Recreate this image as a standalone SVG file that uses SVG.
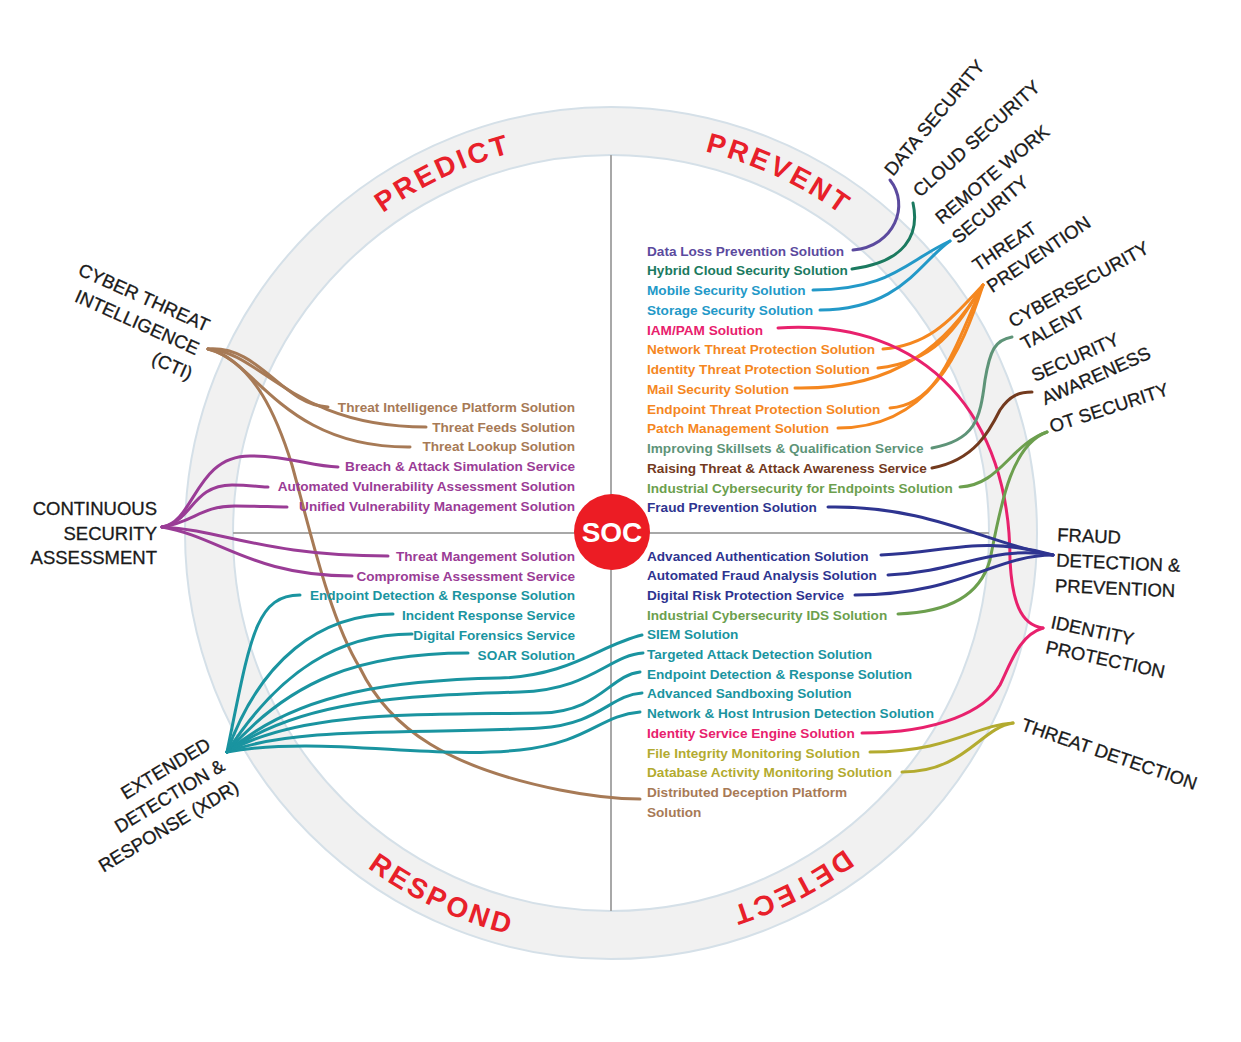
<svg xmlns="http://www.w3.org/2000/svg" width="1241" height="1042" viewBox="0 0 1241 1042">
<style>
.lbl{font-family:"Liberation Sans",Arial,sans-serif;font-size:18.5px;fill:#1a1a1a;stroke:#1a1a1a;stroke-width:0.3px}
.itm{font-family:"Liberation Sans",Arial,sans-serif;font-size:13.6px;font-weight:bold}
.end{text-anchor:end}
.q{font-family:"Liberation Sans",Arial,sans-serif;font-size:28px;font-weight:bold;fill:#e8202a;letter-spacing:3px}
.cn path{fill:none;stroke-width:3;stroke-linecap:round}
.purple{fill:#5b4a9e}.s-purple{stroke:#5b4a9e}
.green{fill:#1b7a60}.s-green{stroke:#1b7a60}
.blue{fill:#2399c8}.s-blue{stroke:#2399c8}
.pink{fill:#e8216d}.s-pink{stroke:#e8216d}
.orange{fill:#f5871f}.s-orange{stroke:#f5871f}
.sage{fill:#5e9478}.s-sage{stroke:#5e9478}
.dbrown{fill:#733a1e}.s-dbrown{stroke:#733a1e}
.olive{fill:#6c9f4e}.s-olive{stroke:#6c9f4e}
.navy{fill:#2e3490}.s-navy{stroke:#2e3490}
.teal{fill:#1a94a0}.s-teal{stroke:#1a94a0}
.yellow{fill:#b3ab30}.s-yellow{stroke:#b3ab30}
.tan{fill:#a77a56}.s-tan{stroke:#a77a56}
.mag{fill:#9a3c96}.s-mag{stroke:#9a3c96}
</style>
<defs>
<path id="arcPredict" d="M254.8,366.9 A393,393 0 0 1 712.7,153.4"/>
<path id="arcPrevent" d="M509.3,153.4 A393,393 0 0 1 967.2,366.9"/>
<path id="arcDetect" d="M972.8,686.5 A393,393 0 0 1 522.6,915.9"/>
<path id="arcRespond" d="M235.8,708 A414,414 0 0 0 718.1,932.9"/>
</defs>
<rect width="1241" height="1042" fill="#ffffff"/>
<g id="ring">
<circle cx="611" cy="533" r="402" fill="none" stroke="#f1f1f1" stroke-width="48"/>
<circle cx="611" cy="533" r="426" fill="none" stroke="#d5e0e8" stroke-width="2"/>
<circle cx="611" cy="533" r="378" fill="none" stroke="#d5e0e8" stroke-width="2"/>
<line x1="611" y1="155" x2="611" y2="911" stroke="#a8a8a8" stroke-width="2"/>
<line x1="233" y1="533" x2="989" y2="533" stroke="#a8a8a8" stroke-width="2"/>
</g>
<g id="quadrants">
<text class="q"><textPath href="#arcPredict" startOffset="50%" text-anchor="middle">PREDICT</textPath></text>
<text class="q"><textPath href="#arcPrevent" startOffset="50%" text-anchor="middle">PREVENT</textPath></text>
<text class="q"><textPath href="#arcDetect" startOffset="50%" text-anchor="middle">DETECT</textPath></text>
<text class="q"><textPath href="#arcRespond" startOffset="50%" text-anchor="middle">RESPOND</textPath></text>
</g>
<g id="connectors" class="cn">
<path class="s-tan" d="M208,349 C260,345 282,405 328,407"/>
<path class="s-tan" d="M208,349 C262,352 292,427 426,427"/>
<path class="s-tan" d="M208,349 C255,358 282,448 410,447"/>
<path class="s-tan" d="M208,349 C255,362 278,420 292,465 C310,530 330,620 360,668 C390,730 450,768 560,790 C590,796 620,799 640,799"/>
<path class="s-mag" d="M162,527 C195,522 195,456 250,456 C290,456 310,466 338,467"/>
<path class="s-mag" d="M162,527 C192,522 192,485 232,485 C250,485 262,487 268,487"/>
<path class="s-mag" d="M162,527 C195,522 200,506 235,506 C255,506 275,507 287,507"/>
<path class="s-mag" d="M162,527 C225,530 262,556 388,556"/>
<path class="s-mag" d="M162,527 C220,537 252,576 352,576"/>
<path class="s-teal" d="M227,752 C250,640 255,595 300,595"/>
<path class="s-teal" d="M227,752 C260,660 320,614 393,614"/>
<path class="s-teal" d="M227,752 C280,670 340,634 412,634"/>
<path class="s-teal" d="M227,752 C290,680 360,653 468,653"/>
<path class="s-teal" d="M227,752 C300,690 400,680 500,678 C570,676 600,645 642,635"/>
<path class="s-teal" d="M227,752 C300,700 400,696 520,692 C590,690 610,655 643,653"/>
<path class="s-teal" d="M227,752 C300,710 420,715 540,713 C600,712 610,675 640,672"/>
<path class="s-teal" d="M227,752 C300,725 420,735 540,728 C600,724 610,695 642,693"/>
<path class="s-teal" d="M227,752 C320,735 430,760 520,750 C590,742 600,715 640,712"/>
<path class="s-purple" d="M853,250 C895,246 910,205 890,180"/>
<path class="s-green" d="M852,269 C905,262 920,235 913,203"/>
<path class="s-blue" d="M813,290 C890,290 905,262 950,241"/>
<path class="s-blue" d="M820,310 C900,310 920,262 950,241"/>
<path class="s-orange" d="M883,349 C930,345 950,320 983,285"/>
<path class="s-orange" d="M878,368 C935,362 955,330 983,285"/>
<path class="s-orange" d="M795,388 C900,390 950,340 983,285"/>
<path class="s-orange" d="M890,408 C940,405 955,345 983,285"/>
<path class="s-orange" d="M838,428 C930,428 962,350 983,285"/>
<path class="s-pink" d="M778,328 C930,318 1010,420 1010,560 C1012,600 1020,625 1043,628"/>
<path class="s-pink" d="M862,733 C940,733 985,710 1000,685 C1012,660 1020,635 1043,628"/>
<path class="s-sage" d="M932,448 C975,440 980,420 985,380 C990,350 995,340 1012,337"/>
<path class="s-dbrown" d="M932,468 C975,460 990,430 1000,410 C1010,395 1020,392 1032,392"/>
<path class="s-olive" d="M960,487 C1000,485 1010,445 1047,432"/>
<path class="s-olive" d="M898,614 C950,612 980,595 990,560 C1000,510 1010,445 1047,432"/>
<path class="s-navy" d="M828,507 C930,505 990,545 1053,555"/>
<path class="s-navy" d="M881,555 C950,552 980,535 1053,555"/>
<path class="s-navy" d="M888,575 C960,572 990,545 1053,555"/>
<path class="s-navy" d="M855,595 C960,595 995,555 1053,555"/>
<path class="s-yellow" d="M870,752 C950,752 975,725 1013,723"/>
<path class="s-yellow" d="M902,772 C965,772 980,728 1013,723"/>
</g>
<g id="soc">
<circle cx="612" cy="532" r="38" fill="#ec1c24"/>
<text x="612" y="542" text-anchor="middle" font-family="Liberation Sans, Arial, sans-serif" font-size="28" font-weight="bold" fill="#ffffff">SOC</text>
</g>
<g id="node-cti"><text class="lbl end" transform="translate(206,332) rotate(24)"><tspan x="0" y="0">CYBER THREAT</tspan><tspan x="0" y="25.5">INTELLIGENCE</tspan><tspan x="4" y="51">(CTI)</tspan></text></g>
<g id="node-csa"><text class="lbl end"><tspan x="157" y="515">CONTINUOUS</tspan><tspan x="157" y="540">SECURITY</tspan><tspan x="157" y="564">ASSESSMENT</tspan></text></g>
<g id="node-xdr"><text class="lbl end" transform="translate(212,748) rotate(-31)"><tspan x="0" y="0">EXTENDED</tspan><tspan x="1" y="25.5">DETECTION &amp;</tspan><tspan x="2" y="51">RESPONSE (XDR)</tspan></text></g>
<g id="node-data"><text class="lbl" transform="translate(893,177) rotate(-50)">DATA SECURITY</text></g>
<g id="node-cloud"><text class="lbl" transform="translate(920,198) rotate(-42)">CLOUD SECURITY</text></g>
<g id="node-remote"><text class="lbl" transform="translate(942,225) rotate(-40)"><tspan x="0" y="0">REMOTE WORK</tspan><tspan x="0" y="25.5">SECURITY</tspan></text></g>
<g id="node-threatprev"><text class="lbl" transform="translate(978,272) rotate(-34)"><tspan x="0" y="0">THREAT</tspan><tspan x="0" y="25.5">PREVENTION</tspan></text></g>
<g id="node-talent"><text class="lbl" transform="translate(1013,328) rotate(-29)"><tspan x="0" y="0">CYBERSECURITY</tspan><tspan x="0" y="25.5">TALENT</tspan></text></g>
<g id="node-awareness"><text class="lbl" transform="translate(1035,382) rotate(-24)"><tspan x="0" y="0">SECURITY</tspan><tspan x="0" y="25.5">AWARENESS</tspan></text></g>
<g id="node-ot"><text class="lbl" transform="translate(1052,433) rotate(-18)">OT SECURITY</text></g>
<g id="node-fraud"><text class="lbl" transform="translate(1057,541) rotate(2.5)"><tspan x="0" y="0">FRAUD</tspan><tspan x="0" y="25.5">DETECTION &amp;</tspan><tspan x="0" y="51">PREVENTION</tspan></text></g>
<g id="node-identity"><text class="lbl" transform="translate(1050,628) rotate(12)"><tspan x="0" y="0">IDENTITY</tspan><tspan x="0" y="25.5">PROTECTION</tspan></text></g>
<g id="node-threatdet"><text class="lbl" transform="translate(1020,730) rotate(19)">THREAT DETECTION</text></g>
<g id="items-left" class="itm end">
<text id="i-tip" class="itm end tan" x="575" y="412">Threat Intelligence Platform Solution</text>
<text id="i-feeds" class="itm end tan" x="575" y="431.7">Threat Feeds Solution</text>
<text id="i-lookup" class="itm end tan" x="575" y="451.4">Threat Lookup Solution</text>
<text id="i-breach" class="itm end mag" x="575" y="471.1">Breach &amp; Attack Simulation Service</text>
<text id="i-ava" class="itm end mag" x="575" y="490.8">Automated Vulnerability Assessment Solution</text>
<text id="i-uvm" class="itm end mag" x="575" y="510.5">Unified Vulnerability Management Solution</text>
<text id="i-tm" class="itm end mag" x="575" y="561">Threat Mangement Solution</text>
<text id="i-ca" class="itm end mag" x="575" y="580.7">Compromise Assessment Service</text>
<text id="i-edr1" class="itm end teal" x="575" y="600.4">Endpoint Detection &amp; Response Solution</text>
<text id="i-ir" class="itm end teal" x="575" y="620.1">Incident Response Service</text>
<text id="i-df" class="itm end teal" x="575" y="639.8">Digital Forensics Service</text>
<text id="i-soar" class="itm end teal" x="575" y="659.5">SOAR Solution</text>
</g>
<g id="items-right">
<text id="i-dlp" class="itm purple" x="647" y="255.5">Data Loss Prevention Solution</text>
<text id="i-hcs" class="itm green" x="647" y="275.2">Hybrid Cloud Security Solution</text>
<text id="i-mob" class="itm blue" x="647" y="295">Mobile Security Solution</text>
<text id="i-sto" class="itm blue" x="647" y="314.7">Storage Security Solution</text>
<text id="i-iam" class="itm pink" x="647" y="334.5">IAM/PAM Solution</text>
<text id="i-ntp" class="itm orange" x="647" y="354.2">Network Threat Protection Solution</text>
<text id="i-itp" class="itm orange" x="647" y="374">Identity Threat Protection Solution</text>
<text id="i-mail" class="itm orange" x="647" y="393.7">Mail Security Solution</text>
<text id="i-etp" class="itm orange" x="647" y="413.5">Endpoint Threat Protection Solution</text>
<text id="i-patch" class="itm orange" x="647" y="433.2">Patch Management Solution</text>
<text id="i-skill" class="itm sage" x="647" y="453">Improving Skillsets &amp; Qualification Service</text>
<text id="i-raise" class="itm dbrown" x="647" y="472.7">Raising Threat &amp; Attack Awareness Service</text>
<text id="i-ice" class="itm olive" x="647" y="492.5">Industrial Cybersecurity for Endpoints Solution</text>
<text id="i-fps" class="itm navy" x="647" y="512.2">Fraud Prevention Solution</text>
<text id="i-aas" class="itm navy" x="647" y="560.5">Advanced Authentication Solution</text>
<text id="i-afa" class="itm navy" x="647" y="580.2">Automated Fraud Analysis Solution</text>
<text id="i-drp" class="itm navy" x="647" y="599.9">Digital Risk Protection Service</text>
<text id="i-ids" class="itm olive" x="647" y="619.6">Industrial Cybersecurity IDS Solution</text>
<text id="i-siem" class="itm teal" x="647" y="639.3">SIEM Solution</text>
<text id="i-tad" class="itm teal" x="647" y="659">Targeted Attack Detection Solution</text>
<text id="i-edr2" class="itm teal" x="647" y="678.7">Endpoint Detection &amp; Response Solution</text>
<text id="i-sand" class="itm teal" x="647" y="698.4">Advanced Sandboxing Solution</text>
<text id="i-nhid" class="itm teal" x="647" y="718.1">Network &amp; Host Intrusion Detection Solution</text>
<text id="i-ise" class="itm pink" x="647" y="737.8">Identity Service Engine Solution</text>
<text id="i-fim" class="itm yellow" x="647" y="757.5">File Integrity Monitoring Solution</text>
<text id="i-dam" class="itm yellow" x="647" y="777.2">Database Activity Monitoring Solution</text>
<text id="i-ddp" class="itm tan" x="647" y="796.9"><tspan x="647" y="796.9">Distributed Deception Platform</tspan><tspan x="647" y="816.6">Solution</tspan></text>
</g>
</svg>
